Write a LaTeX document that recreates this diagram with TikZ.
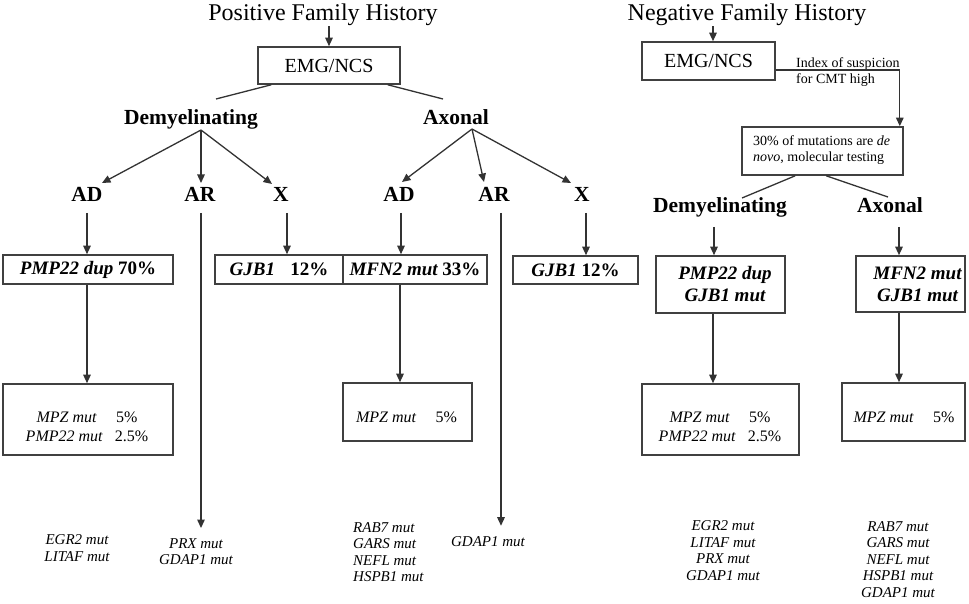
\documentclass[tikz,border=0pt]{standalone}
\usepackage{fontspec}
\setmainfont{Liberation Serif}
\usetikzlibrary{arrows.meta,calc}

\begin{document}
\begin{tikzpicture}[x=1pt,y=-1pt,
  conn/.style={draw=black!80,line width=1.3pt},
  arr/.style={conn,-{Triangle[length=8.5pt,width=7.5pt]}},
  box/.style={draw=black!75,line width=1.6pt,inner sep=0pt,rectangle},
  ttl/.style={font=\fontsize{24}{28}\selectfont,inner sep=0pt,anchor=base},
  head/.style={font=\fontsize{21.5}{26}\selectfont\bfseries,inner sep=0pt,anchor=base},
  bx/.style={font=\fontsize{19}{22}\selectfont\bfseries,inner sep=0pt,align=center},
  sm/.style={font=\fontsize{16}{19}\selectfont,inner sep=0pt,align=center},
  lst/.style={font=\fontsize{15}{16.5}\selectfont\itshape,inner sep=0pt,align=center},
  note/.style={font=\fontsize{14}{15.5}\selectfont,inner sep=0pt,align=left,anchor=north west}
]
\useasboundingbox (0,0) rectangle (969,604);

% ---------- positive family history ----------
\node[ttl] (titleL) at (323,21) {Positive Family History};
\node[box,minimum width=142pt,minimum height=37pt,font=\fontsize{20}{24}\selectfont] (emgL) at (329,65.5) {EMG/NCS};
\draw[arr] (titleL.south -| emgL.north) -- (emgL.north);

\node[head] (demL) at (191,125) {Demyelinating};
\node[head] (axL) at (456,125) {Axonal};
\draw[conn] ($(emgL.south west)+(14,0)$) -- ($(demL.base)+(25,-26)$);
\draw[conn] ($(emgL.south east)+(-13,0)$) -- ($(axL.base)+(-13,-26)$);

\node[head] (adA) at (87,202) {AD};
\node[head] (arA) at (200,202) {AR};
\node[head] (xA) at (281,202) {X};
\node[head] (adB) at (399,202) {AD};
\node[head] (arB) at (494,202) {AR};
\node[head] (xB) at (582,202) {X};

\coordinate (dF) at ($(demL.base)+(10,5)$);
\coordinate (aF) at ($(axL.base)+(16,4)$);
\draw[arr] (dF) -- ($(adA.base)+(15,-19)$);
\draw[arr] (dF) -- ($(arA.base)+(1,-19)$);
\draw[arr] (dF) -- ($(xA.base)+(-9,-18)$);
\draw[arr] (aF) -- ($(adB.base)+(3,-20)$);
\draw[arr] (aF) -- ($(arB.base)+(-10,-20)$);
\draw[arr] (aF) -- ($(xB.base)+(-11,-19)$);

% first-line results
\node[box,minimum width=170pt,minimum height=29pt,bx] (pmpL) at (88,269.5) {\itshape PMP22 dup\upshape{} 70\%};
\node[box,minimum width=128pt,minimum height=29pt,bx] (gjbL) at (279,269.5) {\itshape GJB1\upshape\hspace{0.8em}12\%};
\node[box,minimum width=144pt,minimum height=29pt,bx] (mfn) at (415,269.5) {\itshape MFN2 mut\upshape{} 33\%};
\node[box,minimum width=125pt,minimum height=28pt,bx] (gjbR) at (575.5,270) {\itshape GJB1\upshape{} 12\%};

\draw[arr] ($(adA.base)+(0,11)$) -- (adA.base |- pmpL.north);
\draw[arr] ($(xA.base)+(6,11)$) -- ($(xA.base |- gjbL.north)+(6,0)$);
\draw[arr] ($(adB.base)+(2,11)$) -- ($(adB.base |- mfn.north)+(2,0)$);
\draw[arr] ($(xB.base)+(4,11)$) -- ($(xB.base |- gjbR.north)+(4,0)$);

% second-line results
\node[box,minimum width=170pt,minimum height=71pt] (mpzL) at (88,419.5) {};
\node[sm] (mpzLt) at (87,426.5) {\textit{MPZ mut}\hspace{1.2em}5\%\\\textit{PMP22 mut}\hspace{0.75em}2.5\%};
\node[box,minimum width=129pt,minimum height=58pt] (mpzM) at (407.5,412) {};
\node[sm] (mpzMt) at (406.5,417) {\textit{MPZ mut}\hspace{1.2em}5\%};

\draw[arr] (adA.base |- pmpL.south) -- (adA.base |- mpzL.north);
\draw[arr] ($(adB.base |- mfn.south)+(1,0)$) -- ($(adB.base |- mpzM.north)+(1,0)$);

% rarer genes
\node[lst] (egrL) at (77,548) {EGR2 mut\\LITAF mut};
\node[lst] (prxL) at (196,551.5) {PRX mut\\GDAP1 mut};
\node[lst,align=left,anchor=west] (rabL) at (353,552) {RAB7 mut\\GARS mut\\NEFL mut\\HSPB1 mut};
\node[lst] (gdapM) at (488,542) {GDAP1 mut};

\draw[arr] ($(arA.base)+(1,11)$) -- ($(arA.base |- prxL.north)+(1,-10)$);
\draw[arr] ($(arB.base)+(7,11)$) -- ($(arB.base |- gdapM.north)+(7,-11)$);

% ---------- negative family history ----------
\node[ttl] (titleR) at (747,21) {Negative Family History};
\node[box,minimum width=133pt,minimum height=38pt,font=\fontsize{20}{24}\selectfont] (emgR) at (708.5,61) {EMG/NCS};
\draw[arr] ($(titleR.south -| emgR.north)+(4.5,0)$) -- ($(emgR.north)+(4.5,0)$);

\node[note] (idx) at (796,57.5) {Index of suspicion\\for CMT high};
\node[box,minimum width=161pt,minimum height=48pt] (deNovo) at (822.5,151) {};
\node[note] (deNovot) at (753,135.5) {30\% of mutations are \textit{de}\\\textit{novo}, molecular testing};
\draw[arr] ($(emgR.east)+(0,9)$) -| ($(deNovo.north east)+(-4,0)$);

\node[head] (demR) at (720,213) {Demyelinating};
\node[head] (axR) at (890,213) {Axonal};
\draw[conn] ($(deNovo.south west)+(54,0)$) -- ($(demR.base)+(22,-15)$);
\draw[conn] ($(deNovo.south west)+(85,0)$) -- ($(axR.base)+(-2,-16)$);

\node[box,minimum width=129pt,minimum height=57pt] (pmpgjb) at (720.5,284.5) {};
\node[bx,font=\fontsize{19}{22}\selectfont\bfseries\itshape] (pmpgjbt) at (725,284) {PMP22 dup\\GJB1 mut};
\node[box,minimum width=109pt,minimum height=56pt] (mfngjb) at (910.5,284) {};
\node[bx,font=\fontsize{19}{22}\selectfont\bfseries\itshape] (mfngjbt) at (917.5,284) {MFN2 mut\\GJB1 mut};

\draw[arr] ($(demR.base)+(-6,14)$) -- ($(demR.base |- pmpgjb.north)+(-6,0)$);
\draw[arr] ($(axR.base)+(9,14)$) -- ($(axR.base |- mfngjb.north)+(9,0)$);

\node[box,minimum width=157pt,minimum height=71pt] (mpzR1) at (720.5,419.5) {};
\node[sm] (mpzR1t) at (720,426.5) {\textit{MPZ mut}\hspace{1.2em}5\%\\\textit{PMP22 mut}\hspace{0.75em}2.5\%};
\node[box,minimum width=123pt,minimum height=58pt] (mpzR2) at (903.5,412) {};
\node[sm] (mpzR2t) at (904,417) {\textit{MPZ mut}\hspace{1.2em}5\%};

\draw[arr] ($(demR.base |- pmpgjb.south)+(-7,0)$) -- ($(demR.base |- mpzR1.north)+(-7,0)$);
\draw[arr] ($(axR.base |- mfngjb.south)+(9,0)$) -- ($(axR.base |- mpzR2.north)+(9,0)$);

\node[lst] (egrR) at (723,550.5) {EGR2 mut\\LITAF mut\\PRX mut\\GDAP1 mut};
\node[lst] (rabR) at (898,559.5) {RAB7 mut\\GARS mut\\NEFL mut\\HSPB1 mut\\GDAP1 mut};
\end{tikzpicture}
\end{document}
